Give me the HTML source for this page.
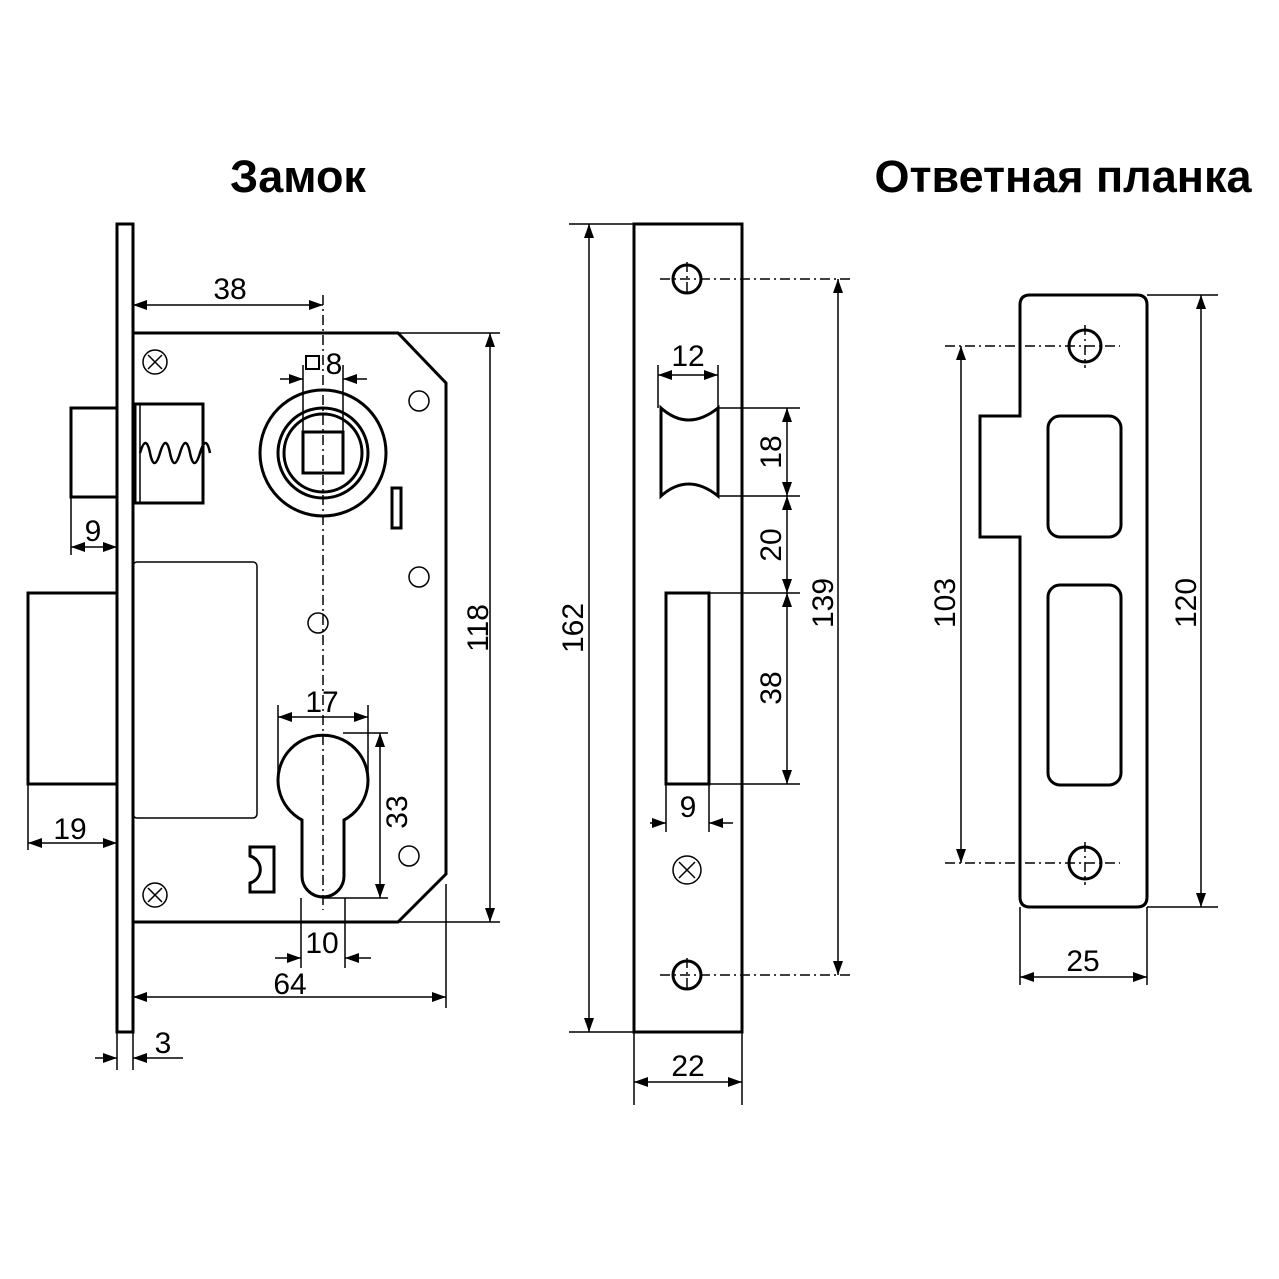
<!DOCTYPE html>
<html><head><meta charset="utf-8"><style>
html,body{margin:0;padding:0;background:#fff}
svg{display:block}
text{font-family:"Liberation Sans",sans-serif;fill:#000}
.t{font-size:45px;font-weight:bold}
.d{font-size:30px;text-anchor:middle}
</style></head><body>
<svg width="1279" height="1279" viewBox="0 0 1279 1279" xmlns="http://www.w3.org/2000/svg">
<defs>
<marker id="a" viewBox="0 0 14 10" refX="14" refY="5" markerWidth="14" markerHeight="10" markerUnits="userSpaceOnUse" orient="auto-start-reverse"><path d="M0,0L14,5L0,10z" fill="#000"/></marker>
</defs>
<text class="t" x="298" y="192" text-anchor="middle">Замок</text>
<text class="t" x="1063" y="192" text-anchor="middle">Ответная планка</text>

<g fill="none" stroke="#000" stroke-width="3">
<rect x="117" y="224" width="16" height="808"/>
<path d="M133,333H398L446,383V874L398,922H133"/>
<rect x="71" y="408" width="46" height="89"/>
<rect x="135" y="404" width="68" height="99"/>
<rect x="28" y="593" width="89" height="191"/>
<circle cx="323" cy="453" r="63"/>
<circle cx="323" cy="453" r="45"/>
<circle cx="323" cy="453" r="39"/>
<rect x="303" y="432" width="40" height="41"/>
<rect x="392" y="488" width="9" height="40"/>
<path d="M302,820A45,45 0 1 1 344,820V876A21,21 0 0 1 302,876Z"/>
<path d="M250,847H274V892H250V883A14,14 0 0 0 250,856Z"/>
<rect x="634" y="224" width="108" height="808"/>
<path d="M661,408Q688,432 718,408V496Q688,472 661,496Z"/>
<rect x="666" y="593" width="43" height="191"/>
<path d="M1030,295H1137Q1147,295 1147,305V897Q1147,907 1137,907H1030Q1020,907 1020,897V537H980V416H1020V305Q1020,295 1030,295Z"/>
<rect x="1048" y="416" width="73" height="121" rx="12"/>
<rect x="1048" y="585" width="73" height="200" rx="12"/>
<circle cx="1085" cy="346" r="16"/>
<circle cx="1085" cy="863" r="16"/>
<circle cx="687" cy="279" r="14"/>
<circle cx="687" cy="975" r="14"/>
</g>
<g fill="none" stroke="#000" stroke-width="1.5">
<rect x="133" y="562" width="124" height="256" rx="4"/>
<path d="M140,404V503"/>
<path d="M140,453q6,-20 10,0t10,0t10,0t10,0t10,0t10,0t10,0" stroke-width="2.5"/>
<circle cx="155" cy="362" r="12"/><path d="M148,355l14,14M162,355l-14,14"/>
<circle cx="155" cy="895" r="12"/><path d="M148,888l14,14M162,888l-14,14"/>
<circle cx="687" cy="870" r="14"/><path d="M679,862l16,16M695,862l-16,16"/>
<circle cx="419" cy="401" r="10"/><circle cx="419" cy="577" r="10"/>
<circle cx="318" cy="623" r="10"/><circle cx="409" cy="856" r="10"/>
<g stroke-dasharray="10,4,2,4">
<path d="M323,295V910"/>
<path d="M660,279H850M660,975H850M687,262V296M687,958V992"/>
<path d="M945,346H1120M945,863H1120M1085,325V368M1085,842V885"/>
</g>
<path d="M398,333H500M398,922H500M343,733H388M323,898H388"/>
<path d="M303,365V432M343,365V432M278,705V775M368,705V775M301,898V968M345,898V968"/>
<path d="M71,497V555M28,784V850M446,884V1008M133,922V1070M117,1032V1070"/>
<path d="M569,224H634M569,1032H634M634,1032V1105M742,1032V1105"/>
<path d="M658,365V408M718,365V408M718,408H800M718,496H800M709,593H800M709,784H800M666,784V832M709,784V832"/>
<path d="M1147,295H1218M1147,907H1218M1020,907V985M1147,907V985"/>
<path d="M133,305H323" marker-start="url(#a)" marker-end="url(#a)"/>
<path d="M280,379H303" marker-end="url(#a)"/>
<path d="M367,379H343" marker-end="url(#a)"/>
<path d="M71,547H117" marker-start="url(#a)" marker-end="url(#a)"/>
<path d="M28,843H117" marker-start="url(#a)" marker-end="url(#a)"/>
<path d="M490,333V922" marker-start="url(#a)" marker-end="url(#a)"/>
<path d="M278,717H368" marker-start="url(#a)" marker-end="url(#a)"/>
<path d="M380,733V898" marker-start="url(#a)" marker-end="url(#a)"/>
<path d="M275,958H301" marker-end="url(#a)"/>
<path d="M371,958H345" marker-end="url(#a)"/>
<path d="M133,997H446" marker-start="url(#a)" marker-end="url(#a)"/>
<path d="M95,1058H117" marker-end="url(#a)"/>
<path d="M183,1058H133" marker-end="url(#a)"/>
<path d="M589,224V1032" marker-start="url(#a)" marker-end="url(#a)"/>
<path d="M838,279V975" marker-start="url(#a)" marker-end="url(#a)"/>
<path d="M658,375H718" marker-start="url(#a)" marker-end="url(#a)"/>
<path d="M787,408V496" marker-start="url(#a)" marker-end="url(#a)"/>
<path d="M787,496V593" marker-start="url(#a)" marker-end="url(#a)"/>
<path d="M787,593V784" marker-start="url(#a)" marker-end="url(#a)"/>
<path d="M650,823H666" marker-end="url(#a)"/>
<path d="M733,823H709" marker-end="url(#a)"/>
<path d="M634,1082H742" marker-start="url(#a)" marker-end="url(#a)"/>
<path d="M961,346V863" marker-start="url(#a)" marker-end="url(#a)"/>
<path d="M1201,295V907" marker-start="url(#a)" marker-end="url(#a)"/>
<path d="M1020,977H1147" marker-start="url(#a)" marker-end="url(#a)"/>
</g>
<rect x="306" y="356" width="13" height="13" fill="none" stroke="#000" stroke-width="2"/>
<g class="d">
<text x="230" y="299">38</text>
<text x="334" y="374">8</text>
<text x="93" y="541">9</text>
<text x="70" y="839">19</text>
<text x="322" y="712">17</text>
<text x="322" y="953">10</text>
<text x="290" y="994">64</text>
<text x="163" y="1053">3</text>
<text x="688" y="366">12</text>
<text x="688" y="817">9</text>
<text x="688" y="1076">22</text>
<text x="1083" y="971">25</text>
<text transform="translate(488,628) rotate(-90)">118</text>
<text transform="translate(407,812) rotate(-90)">33</text>
<text transform="translate(583,628) rotate(-90)">162</text>
<text transform="translate(833,603) rotate(-90)">139</text>
<text transform="translate(781,452) rotate(-90)">18</text>
<text transform="translate(781,545) rotate(-90)">20</text>
<text transform="translate(781,688) rotate(-90)">38</text>
<text transform="translate(955,603) rotate(-90)">103</text>
<text transform="translate(1196,603) rotate(-90)">120</text>
</g>
</svg>
</body></html>
